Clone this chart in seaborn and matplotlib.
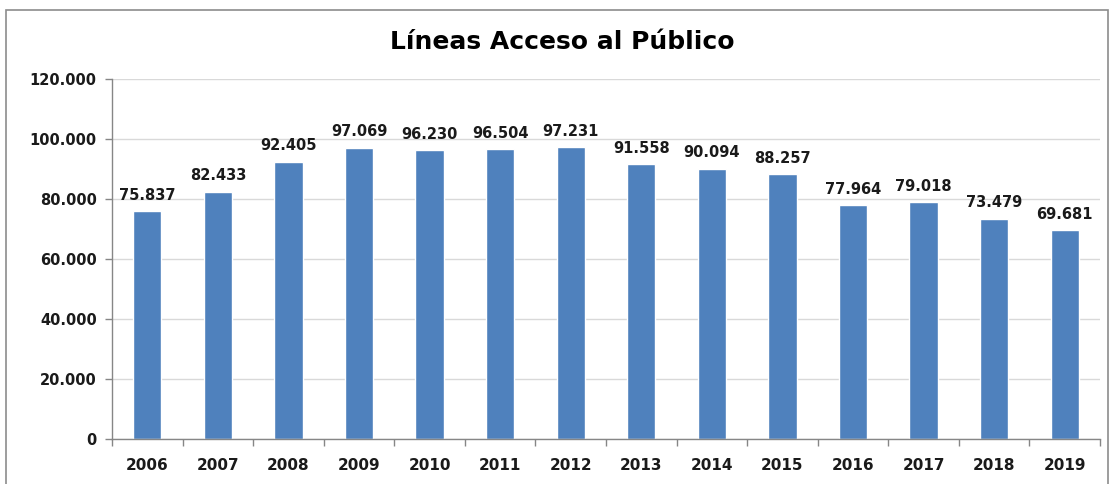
import matplotlib
matplotlib.use("Agg")
import matplotlib.pyplot as plt
import seaborn as sns
import pandas as pd
from matplotlib.ticker import FuncFormatter, FixedLocator
from matplotlib.patches import Rectangle

years = ["2006", "2007", "2008", "2009", "2010", "2011", "2012",
         "2013", "2014", "2015", "2016", "2017", "2018", "2019"]
values = [75837, 82433, 92405, 97069, 96230, 96504, 97231,
          91558, 90094, 88257, 77964, 79018, 73479, 69681]
title = "Líneas Acceso al Público"

sns.set_theme(style="white")
plt.rcParams['font.family'] = ['DejaVu Sans']

df = pd.DataFrame({"year": years, "value": values})

fig = plt.figure(figsize=(11.11, 4.84), dpi=100)
ax = fig.add_axes([112/1111, 1-439/484, (1100-112)/1111, (439-79)/484])

sns.barplot(data=df, x="year", y="value", color="#4F81BD", saturation=1,
            width=0.4, ax=ax)

def fmt(v):
    return f"{int(round(v)):,}".replace(",", ".")

for i, v in enumerate(values):
    ax.annotate(fmt(v), (i, v), xytext=(0, 6), textcoords="offset points",
                ha="center", va="bottom", fontsize=10.5, fontweight="bold",
                color="#1a1a1a")

ax.set_ylim(0, 120000)
ax.set_xlim(-0.5, len(years) - 0.5)
ax.yaxis.set_major_locator(FixedLocator(range(0, 120001, 20000)))
ax.yaxis.set_major_formatter(FuncFormatter(lambda v, p: fmt(v)))
ax.grid(axis="y", color="#d9d9d9", linewidth=1)
ax.set_axisbelow(True)
ax.set_xlabel("")
ax.set_ylabel("")

for s in ["top", "right"]:
    ax.spines[s].set_visible(False)
for s in ["left", "bottom"]:
    ax.spines[s].set_color("#868686")
    ax.spines[s].set_linewidth(1)

ax.tick_params(axis="y", which="major", length=5, width=1, color="#868686",
               left=True, labelsize=10.5, pad=6)
ax.tick_params(axis="x", which="major", length=0, labelsize=11, pad=14)
ax.set_xticks([i - 0.5 for i in range(len(years) + 1)], minor=True)
ax.tick_params(axis="x", which="minor", length=5, width=1, color="#868686",
               bottom=True)
for lab in ax.get_xticklabels() + ax.get_yticklabels():
    lab.set_fontweight("bold")
    lab.set_color("#1a1a1a")

fig.text(562/1111, 1 - 42/484, title, ha="center", va="center",
         fontsize=18, fontweight="bold", family=["DejaVu Sans"],
         color="#000000")

fig.patches.append(Rectangle((6/1111, -0.05), (1108-6)/1111, (1 - 10/484) + 0.05,
                             transform=fig.transFigure, fill=False,
                             edgecolor="#8c8c8c", linewidth=1.2))

fig.savefig("out.png", dpi=100)
